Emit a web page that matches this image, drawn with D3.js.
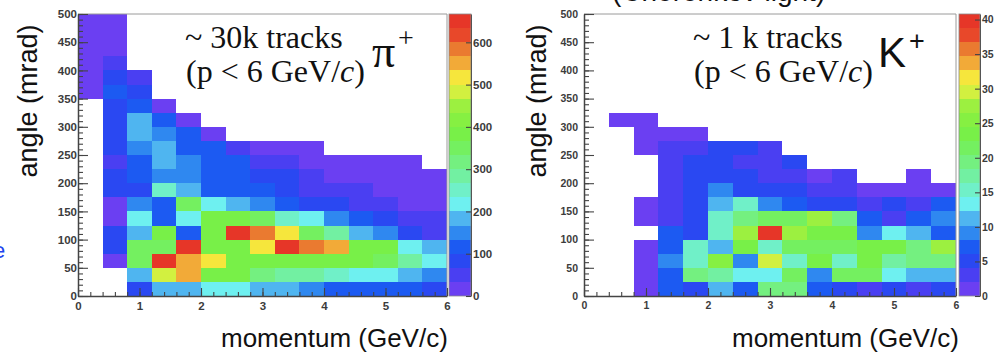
<!DOCTYPE html>
<html><head><meta charset="utf-8">
<script src="https://cdn.jsdelivr.net/npm/d3@7"></script>
<style>body{margin:0;background:#fff}svg{display:block}</style>
</head><body>
<svg id="c" width="1001" height="354"></svg>
<script>
// ---------- data ----------
const momentumEdges = [0,0.4,0.8,1.2,1.6,2.0,2.4,2.8,3.2,3.6,4.0,4.4,4.8,5.2,5.6,6.0];
const angleEdges = [0,25,50,75,100,125,150,175,200,225,250,275,300,325,350,375,400,425,450,475,500];
const momentumTicks = [0,1,2,3,4,5,6];
const angleTicks = [0,50,100,150,200,250,300,350,400,450,500];
const piColorTicks = [0,100,200,300,400,500,600];
const kColorTicks = [0,5,10,15,20,25,30,35,40];

// counts per bin; first row = 475-500 mrad, last row = 0-25 mrad; columns = momentum bins 0-0.4 ... 5.6-6.0
const piCounts = [
 [15,15,0,0,0,0,0,0,0,0,0,0,0,0,0],
 [15,15,0,0,0,0,0,0,0,0,0,0,0,0,0],
 [15,15,0,0,0,0,0,0,0,0,0,0,0,0,0],
 [15,50,0,0,0,0,0,0,0,0,0,0,0,0,0],
 [15,83,50,0,0,0,0,0,0,0,0,0,0,0,0],
 [15,117,83,0,0,0,0,0,0,0,0,0,0,0,0],
 [0,83,117,15,0,0,0,0,0,0,0,0,0,0,0],
 [0,83,183,117,15,0,0,0,0,0,0,0,0,0,0],
 [0,83,183,150,117,15,0,0,0,0,0,0,0,0,0],
 [0,83,150,183,120,117,50,15,15,15,0,0,0,0,0],
 [0,50,117,183,150,117,110,50,50,15,15,15,15,15,0],
 [0,83,117,150,150,117,117,83,83,50,15,15,15,15,15],
 [0,83,83,250,183,117,117,117,83,50,50,50,15,15,15],
 [0,15,150,117,350,217,183,150,117,83,83,50,50,15,15],
 [0,15,217,117,217,383,383,350,250,217,150,117,83,50,50],
 [0,83,183,383,117,383,650,583,517,350,283,183,150,83,50],
 [0,83,350,350,645,383,383,517,655,583,550,383,383,217,183],
 [0,15,350,640,550,517,383,383,383,383,383,383,350,283,217],
 [0,0,183,483,550,383,383,317,283,283,250,217,217,183,150],
 [0,0,100,183,183,217,217,183,183,150,117,117,117,117,83]
];
const kCounts = [
 [0,0,0,0,0,0,0,0,0,0,0,0,0,0,0],
 [0,0,0,0,0,0,0,0,0,0,0,0,0,0,0],
 [0,0,0,0,0,0,0,0,0,0,0,0,0,0,0],
 [0,0,0,0,0,0,0,0,0,0,0,0,0,0,0],
 [0,0,0,0,0,0,0,0,0,0,0,0,0,0,0],
 [0,0,0,0,0,0,0,0,0,0,0,0,0,0,0],
 [0,0,0,0,0,0,0,0,0,0,0,0,0,0,0],
 [0,1,1,0,0,0,0,0,0,0,0,0,0,0,0],
 [0,0,1,1,1,0,0,0,0,0,0,0,0,0,0],
 [0,0,1,3,3,5,5,3,0,0,0,0,0,0,0],
 [0,0,0,3,5,5,3,3,5,0,0,0,0,0,0],
 [0,0,0,3,5,5,5,3,3,1,3,0,0,1,0],
 [0,0,0,3,5,9,5,5,5,3,3,1,1,1,1],
 [0,0,1,3,5,11,15,9,7,5,5,3,5,3,7],
 [0,0,1,3,5,15,19,21,21,27,19,7,3,7,9],
 [0,0,0,7,5,15,27,40,27,23,23,9,13,11,7],
 [0,0,1,7,15,11,23,15,21,21,21,23,23,19,27],
 [0,0,1,9,15,25,9,29,15,23,15,23,17,19,19],
 [0,0,1,7,19,17,13,13,21,9,21,21,13,11,11],
 [0,0,1,7,5,11,7,19,19,7,5,3,5,3,5]
];

// ---------- style ----------
const palette = ["#6b3ff2","#4a3ff2","#2a48f2","#1c5af2","#2f88f0","#4fb5f0","#6ef0f0","#70f0c8",
 "#72f0a2","#74f080","#74f060","#78f048","#86f042","#9cf040","#d2f040","#f6e63c","#f2aa38","#ea7a30","#e8482a","#e63628"];
const nLevels = palette.length;
const svg = d3.select("#c");
const SANS = "'Liberation Sans', Arial, sans-serif";
const SERIF = "'Liberation Serif', 'Times New Roman', serif";

const panels = [
 {counts: piCounts, zMax: 667, zTicks: piColorTicks, l: 78, r: 447, t: 14, b: 296, barL: 449, barR: 471,
  fs: 11.5, yPad: 1, yTitleX: 37, xTitleX: 221},
 {counts: kCounts, zMax: 40.8, zTicks: kColorTicks, l: 584, r: 956, t: 14, b: 296, barL: 959, barR: 980,
  fs: 10.5, yPad: 6, yTitleX: 546, xTitleX: 732}
];

panels.forEach(p => {
  const x = d3.scaleLinear().domain([0, 6]).range([p.l, p.r]);
  const y = d3.scaleLinear().domain([0, 500]).range([p.b, p.t]);
  const z = d3.scaleLinear().domain([0, p.zMax]).range([p.b, p.t]);
  const level = v => Math.min(nLevels - 1, Math.floor(v / p.zMax * nLevels));
  const nRows = angleEdges.length - 1;
  const cells = [];
  p.counts.forEach((row, ri) => row.forEach((v, ci) => {
    if (v > 0) cells.push({i: ci, j: nRows - 1 - ri, v});
  }));
  svg.append("g").attr("shape-rendering", "crispEdges")
    .selectAll("rect").data(cells).join("rect")
    .attr("x", d => x(momentumEdges[d.i]))
    .attr("y", d => y(angleEdges[d.j + 1]))
    .attr("width", d => x(momentumEdges[d.i + 1]) - x(momentumEdges[d.i]))
    .attr("height", d => y(angleEdges[d.j]) - y(angleEdges[d.j + 1]))
    .attr("fill", d => palette[level(d.v)]);

  // frame top/right
  svg.append("path")
    .attr("d", `M${p.l},${p.t}H${p.r}V${p.b}`)
    .attr("fill", "none").attr("stroke", "#9a9a9a").attr("stroke-width", 1);

  // colour bar
  svg.append("g").attr("shape-rendering", "crispEdges")
    .selectAll("rect").data(d3.range(nLevels)).join("rect")
    .attr("x", p.barL).attr("width", p.barR - p.barL)
    .attr("y", k => z((k + 1) * p.zMax / nLevels))
    .attr("height", k => z(k * p.zMax / nLevels) - z((k + 1) * p.zMax / nLevels))
    .attr("fill", k => palette[k]);
  svg.append("rect").attr("x", p.barL).attr("y", p.t).attr("width", p.barR - p.barL)
    .attr("height", p.b - p.t).attr("fill", "none").attr("stroke", "#8a8a8a").attr("stroke-width", 0.8);
  const gz = svg.append("g").attr("transform", `translate(${p.barR},0)`)
    .call(d3.axisRight(z).tickValues(p.zTicks).tickSizeInner(-5).tickSizeOuter(0).tickPadding(2));
  gz.select(".domain").attr("stroke", "#555");

  // y axis
  const gy = svg.append("g").attr("transform", `translate(${p.l},0)`)
    .call(d3.axisLeft(y).tickValues(angleTicks).tickSizeInner(-10).tickSizeOuter(0).tickPadding(p.yPad));
  svg.append("g").attr("transform", `translate(${p.l},0)`)
    .call(d3.axisLeft(y).tickValues(d3.range(0, 501, 10)).tickSizeInner(-5).tickSizeOuter(0).tickFormat(""))
    .select(".domain").remove();
  // x axis
  const gx = svg.append("g").attr("transform", `translate(0,${p.b})`)
    .call(d3.axisBottom(x).tickValues(momentumTicks).tickFormat(d3.format("d"))
      .tickSizeInner(-8).tickSizeOuter(0).tickPadding(6));
  svg.append("g").attr("transform", `translate(0,${p.b})`)
    .call(d3.axisBottom(x).tickValues(d3.range(0, 6.01, 0.2)).tickSizeInner(-4).tickSizeOuter(0).tickFormat(""))
    .select(".domain").remove();

  [gy, gx, gz].forEach(g => {
    g.selectAll("text").attr("font-family", SANS).attr("font-weight", "bold")
      .attr("font-size", p.fs).attr("fill", "#3c3c3c");
  });
  svg.selectAll(".tick line").attr("stroke", "#444").attr("stroke-width", 1.1);
  gy.select(".domain").attr("stroke", "#444").attr("stroke-width", 1.5);
  gx.select(".domain").attr("stroke", "#444").attr("stroke-width", 1.5);

  // axis titles
  svg.append("text").attr("transform", `translate(${p.yTitleX},101) rotate(-90)`)
    .attr("text-anchor", "middle").attr("font-family", SANS).attr("font-size", 27)
    .attr("fill", "#111").text("angle (mrad)");
  svg.append("text").attr("x", p.xTitleX).attr("y", 347)
    .attr("font-family", SANS).attr("font-size", 26).attr("fill", "#111").text("momentum (GeV/c)");
});

// annotations
function note(x0, line1) {
  svg.append("text").attr("x", x0).attr("y", 48).attr("font-family", SERIF)
    .attr("font-size", 32).attr("fill", "#111").text(line1);
  const t = svg.append("text").attr("x", x0 + 1).attr("y", 82).attr("font-family", SERIF)
    .attr("font-size", 32).attr("fill", "#111");
  t.append("tspan").text("(p < 6 GeV/");
  t.append("tspan").attr("font-style", "italic").text("c");
  t.append("tspan").text(")");
}
note(185, "~ 30k tracks");
note(693, "~ 1 k tracks");

svg.append("text").attr("x", 372).attr("y", 67).attr("font-family", SERIF)
  .attr("font-size", 46).attr("fill", "#111").text("π");
svg.append("text").attr("x", 398).attr("y", 47).attr("font-family", SERIF)
  .attr("font-size", 28).attr("fill", "#111").text("+");
svg.append("text").attr("x", 878).attr("y", 67).attr("font-family", SANS)
  .attr("font-size", 42).attr("fill", "#111").text("K");
svg.append("text").attr("x", 909).attr("y", 50).attr("font-family", SANS)
  .attr("font-size", 27).attr("fill", "#111").text("+");

// cropped header text at the top edge and cropped glyph at the left edge (as in the source slide)
svg.append("text").attr("x", 612).attr("y", 1).attr("font-family", SANS)
  .attr("font-size", 28).attr("fill", "#111").text("(Cherenkov light)");
svg.append("text").attr("x", -7).attr("y", 258).attr("font-family", SANS)
  .attr("font-size", 22).attr("fill", "#2244ee").text("e");
</script>
</body></html>
